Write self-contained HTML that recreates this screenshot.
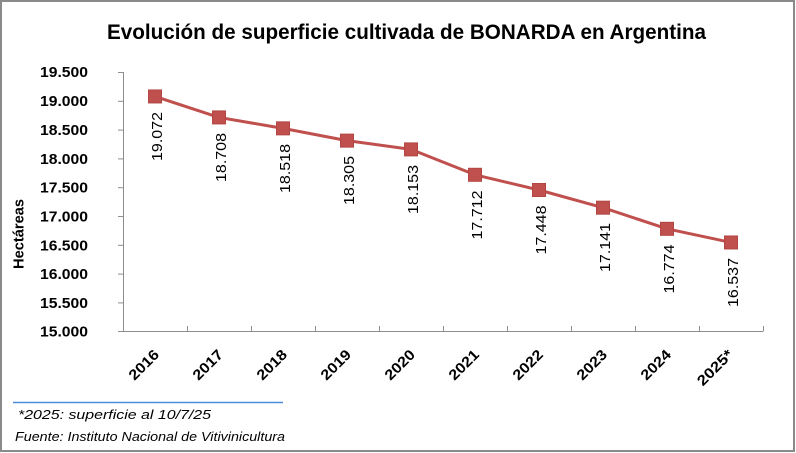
<!DOCTYPE html>
<html><head><meta charset="utf-8"><style>
html,body{margin:0;padding:0;background:#fff;}
svg{display:block;}
text{font-family:"Liberation Sans",sans-serif;fill:#000;}
</style></head><body>
<svg width="796" height="453" viewBox="0 0 796 453" xmlns="http://www.w3.org/2000/svg">
<rect x="0" y="0" width="796" height="453" fill="#fff"/>
<rect x="1" y="1" width="793" height="450" fill="none" stroke="#8a8a8a" stroke-width="2"/>
<text x="406.5" y="39" text-anchor="middle" font-size="21" font-weight="bold" textLength="599" lengthAdjust="spacingAndGlyphs">Evolución de superficie cultivada de BONARDA en Argentina</text>
<g stroke="#8e8e8e" stroke-width="1" fill="none">
<line x1="123.5" y1="72" x2="123.5" y2="331"/>
<line x1="118" y1="331.5" x2="763.5" y2="331.5"/>
<line x1="118" y1="72.5" x2="123" y2="72.5"/>
<line x1="118" y1="101.3" x2="123" y2="101.3"/>
<line x1="118" y1="130.1" x2="123" y2="130.1"/>
<line x1="118" y1="158.9" x2="123" y2="158.9"/>
<line x1="118" y1="187.7" x2="123" y2="187.7"/>
<line x1="118" y1="216.5" x2="123" y2="216.5"/>
<line x1="118" y1="245.3" x2="123" y2="245.3"/>
<line x1="118" y1="274.1" x2="123" y2="274.1"/>
<line x1="118" y1="302.9" x2="123" y2="302.9"/>
<line x1="187.5" y1="326" x2="187.5" y2="331"/>
<line x1="251.5" y1="326" x2="251.5" y2="331"/>
<line x1="315.5" y1="326" x2="315.5" y2="331"/>
<line x1="379.5" y1="326" x2="379.5" y2="331"/>
<line x1="443.5" y1="326" x2="443.5" y2="331"/>
<line x1="507.5" y1="326" x2="507.5" y2="331"/>
<line x1="571.5" y1="326" x2="571.5" y2="331"/>
<line x1="635.5" y1="326" x2="635.5" y2="331"/>
<line x1="699.5" y1="326" x2="699.5" y2="331"/>
<line x1="763.5" y1="326" x2="763.5" y2="331"/>
</g>
<g font-size="14.5" font-weight="bold" text-anchor="end">
<text x="88" y="77" textLength="48" lengthAdjust="spacingAndGlyphs">19.500</text>
<text x="88" y="106" textLength="48" lengthAdjust="spacingAndGlyphs">19.000</text>
<text x="88" y="135" textLength="48" lengthAdjust="spacingAndGlyphs">18.500</text>
<text x="88" y="164" textLength="48" lengthAdjust="spacingAndGlyphs">18.000</text>
<text x="88" y="192.5" textLength="48" lengthAdjust="spacingAndGlyphs">17.500</text>
<text x="88" y="221.5" textLength="48" lengthAdjust="spacingAndGlyphs">17.000</text>
<text x="88" y="250.5" textLength="48" lengthAdjust="spacingAndGlyphs">16.500</text>
<text x="88" y="279" textLength="48" lengthAdjust="spacingAndGlyphs">16.000</text>
<text x="88" y="308" textLength="48" lengthAdjust="spacingAndGlyphs">15.500</text>
<text x="88" y="336.5" textLength="48" lengthAdjust="spacingAndGlyphs">15.000</text>
</g>
<text x="0" y="0" transform="translate(23.5,234) rotate(-90)" text-anchor="middle" font-size="14.5" font-weight="bold" textLength="70" lengthAdjust="spacingAndGlyphs">Hectáreas</text>
<g font-size="14.5" font-weight="bold" text-anchor="end">
<text transform="translate(160,355.5) rotate(-45)" textLength="36" lengthAdjust="spacingAndGlyphs">2016</text>
<text transform="translate(224,355.5) rotate(-45)" textLength="36" lengthAdjust="spacingAndGlyphs">2017</text>
<text transform="translate(288,355.5) rotate(-45)" textLength="36" lengthAdjust="spacingAndGlyphs">2018</text>
<text transform="translate(352,355.5) rotate(-45)" textLength="36" lengthAdjust="spacingAndGlyphs">2019</text>
<text transform="translate(416,355.5) rotate(-45)" textLength="36" lengthAdjust="spacingAndGlyphs">2020</text>
<text transform="translate(480,355.5) rotate(-45)" textLength="36" lengthAdjust="spacingAndGlyphs">2021</text>
<text transform="translate(544,355.5) rotate(-45)" textLength="36" lengthAdjust="spacingAndGlyphs">2022</text>
<text transform="translate(608,355.5) rotate(-45)" textLength="36" lengthAdjust="spacingAndGlyphs">2023</text>
<text transform="translate(672,355.5) rotate(-45)" textLength="36" lengthAdjust="spacingAndGlyphs">2024</text>
<text transform="translate(734,355.5) rotate(-45)" textLength="44" lengthAdjust="spacingAndGlyphs">2025*</text>
</g>
<polyline fill="none" stroke="#C0504D" stroke-width="3" stroke-linejoin="round" points="155,96.45 219,117.42 283,128.36 347,140.63 411,149.39 475,174.79 539,190 603,207.68 667,228.82 731,242.47"/>
<g fill="#C0504D" stroke="#B24643" stroke-width="1">
<rect x="148.5" y="89.95" width="13" height="13"/>
<rect x="212.5" y="110.92" width="13" height="13"/>
<rect x="276.5" y="121.86" width="13" height="13"/>
<rect x="340.5" y="134.13" width="13" height="13"/>
<rect x="404.5" y="142.89" width="13" height="13"/>
<rect x="468.5" y="168.29" width="13" height="13"/>
<rect x="532.5" y="183.5" width="13" height="13"/>
<rect x="596.5" y="201.18" width="13" height="13"/>
<rect x="660.5" y="222.32" width="13" height="13"/>
<rect x="724.5" y="235.97" width="13" height="13"/>
</g>
<g font-size="14.5" text-anchor="end">
<text transform="translate(162,112) rotate(-90)" textLength="49" lengthAdjust="spacingAndGlyphs">19.072</text>
<text transform="translate(226,133) rotate(-90)" textLength="49" lengthAdjust="spacingAndGlyphs">18.708</text>
<text transform="translate(290,144) rotate(-90)" textLength="49" lengthAdjust="spacingAndGlyphs">18.518</text>
<text transform="translate(354,156) rotate(-90)" textLength="49" lengthAdjust="spacingAndGlyphs">18.305</text>
<text transform="translate(418,165) rotate(-90)" textLength="49" lengthAdjust="spacingAndGlyphs">18.153</text>
<text transform="translate(482,190.5) rotate(-90)" textLength="49" lengthAdjust="spacingAndGlyphs">17.712</text>
<text transform="translate(546,205.5) rotate(-90)" textLength="49" lengthAdjust="spacingAndGlyphs">17.448</text>
<text transform="translate(610,223) rotate(-90)" textLength="49" lengthAdjust="spacingAndGlyphs">17.141</text>
<text transform="translate(674,244.5) rotate(-90)" textLength="49" lengthAdjust="spacingAndGlyphs">16.774</text>
<text transform="translate(738,258) rotate(-90)" textLength="49" lengthAdjust="spacingAndGlyphs">16.537</text>
</g>
<line x1="13" y1="402.5" x2="283" y2="402.5" stroke="#4A8FDB" stroke-width="1.5"/>
<text x="18" y="419" font-size="13" font-style="italic" textLength="193" lengthAdjust="spacingAndGlyphs">*2025: superficie al 10/7/25</text>
<text x="15" y="441" font-size="12.5" font-style="italic" textLength="270" lengthAdjust="spacingAndGlyphs">Fuente: Instituto Nacional de Vitivinicultura</text>
</svg>
</body></html>
